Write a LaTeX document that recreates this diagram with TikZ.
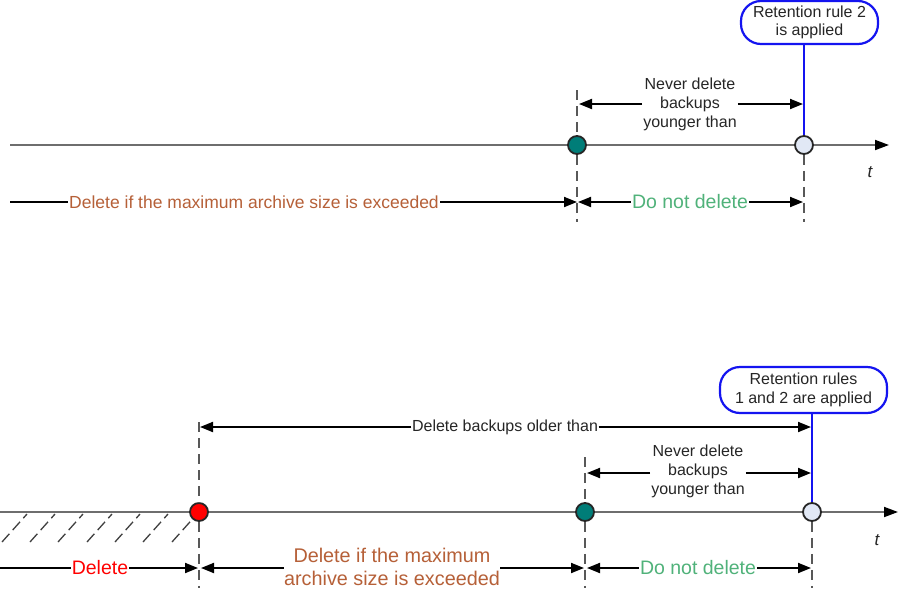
\documentclass[tikz,border=0pt]{standalone}
\usepackage{fontspec}
\setmainfont{Liberation Sans}
\usetikzlibrary{arrows.meta}
\definecolor{teal1}{RGB}{0,125,120}
\definecolor{lightdot}{RGB}{225,232,245}
\definecolor{axisgray}{RGB}{110,110,110}
\definecolor{orangetxt}{RGB}{182,96,56}
\definecolor{greentxt}{RGB}{80,178,122}
\definecolor{rulblue}{RGB}{20,20,240}
\tikzset{
  axis/.style={draw=axisgray, line width=1.8pt, -{Triangle[length=14pt,width=10pt,color=black]}},
  guide/.style={draw=axisgray!80!black, line width=1.3pt, dash pattern=on 10pt off 6pt},
  dim/.style={draw=black, line width=1.9pt, -{Triangle[length=13pt,width=10pt]}},
  plain/.style={draw=black, line width=1.9pt},
  dot/.style={circle, draw=black!85, line width=1.8pt, minimum size=18pt, inner sep=0pt},
  bubble/.style={draw=rulblue, line width=2.2pt, rounded corners=20pt, align=center, font=\fontsize{16}{18.5}\selectfont, inner sep=0pt, text=black!85},
  blk/.style={font=\fontsize{16}{19}\selectfont, align=center, inner sep=1pt, text=black!85},
  colr/.style={align=center, inner sep=1pt},
  hatch/.style={draw=black!75, line width=1.3pt, dash pattern=on 11pt off 5pt},
  tlabel/.style={font=\itshape\fontsize{17}{17}\selectfont, text=black!85},
  ruleline/.style={draw=rulblue, line width=2.2pt},
}
\begin{document}
\begin{tikzpicture}[x=1pt,y=-1pt]
\useasboundingbox[fill=white] (0,0) rectangle (898,595);

% ================= TOP DIAGRAM =================
\coordinate (tA0) at (10,145);
\coordinate (tAend) at (889,145);
\draw[axis] (tA0) -- (tAend);
\node[dot, fill=teal1] (g1) at (577,145) {};
\node[dot, fill=lightdot] (w1) at (804,145) {};
\node[tlabel] (t1) at (870,172) {t};

\coordinate (g1top) at (577,90);
\coordinate (g1bot) at (577,222);
\coordinate (w1bot) at (804,222);
\draw[guide] (g1top) -- (g1.north);
\draw[guide] (g1.south) -- (g1bot);
\draw[guide] (w1.south) -- (w1bot);

\node[bubble, minimum width=137pt, minimum height=43pt] (b1) at (809.5,22.5) {Retention rule 2\\is applied};
\draw[ruleline] (w1.north) -- (w1.north |- b1.south);

\coordinate (n1L) at (579,104);
\coordinate (n1R) at (803,104);
\node[blk] (n1) at (690,104) {Never delete\\backups\\younger than};
\draw[dim] (n1.west |- n1L) -- (n1L);
\draw[dim] (n1.east |- n1R) -- (n1R);

\coordinate (o1L) at (10,202);
\coordinate (o1R) at (577,202);
\node[colr, text=orangetxt, font=\fontsize{17.5}{23}\selectfont] (o1) at (254,202) {Delete if the maximum archive size is exceeded};
\draw[plain] (o1L) -- (o1.west);
\draw[dim] (o1.east) -- (o1R);

\coordinate (d1L) at (578,202);
\coordinate (d1R) at (803,202);
\node[colr, text=greentxt, font=\fontsize{19.5}{23}\selectfont] (d1) at (690,202) {Do not delete};
\draw[dim] (d1.west) -- (d1L);
\draw[dim] (d1.east) -- (d1R);

% ================= BOTTOM DIAGRAM =================
\coordinate (bA0) at (0,512);
\coordinate (bAend) at (898,512);
\draw[axis] (bA0) -- (bAend);

% hatching
\foreach \x in {2,30,58,87,115,143,172}{
  \draw[hatch] (\x,542) -- ++(25,-28);
}

\node[dot, fill=red] (r2) at (199,512) {};
\node[dot, fill=teal1] (g2) at (585,512) {};
\node[dot, fill=lightdot] (w2) at (812,512) {};
\node[tlabel] (t2) at (877,540) {t};

\coordinate (r2top) at (199,422);
\coordinate (r2bot) at (199,588);
\coordinate (g2top) at (585,457);
\coordinate (g2bot) at (585,588);
\coordinate (w2bot) at (812,588);
\draw[guide] (r2top) -- (r2.north);
\draw[guide] (r2.south) -- (r2bot);
\draw[guide] (g2top) -- (g2.north);
\draw[guide] (g2.south) -- (g2bot);
\draw[guide] (w2.south) -- (w2bot);

\node[bubble, minimum width=167pt, minimum height=46pt] (b2) at (803.5,390) {Retention rules\\1 and 2 are applied};
\draw[ruleline] (w2.north) -- (w2.north |- b2.south);

\coordinate (oldL) at (200,427);
\coordinate (oldR) at (811,427);
\node[blk, inner sep=0.5pt] (old) at (505,427) {Delete backups older than};
\draw[dim] (old.west) -- (oldL);
\draw[dim] (old.east) -- (oldR);

\coordinate (n2L) at (587,473);
\coordinate (n2R) at (811,473);
\node[blk] (n2) at (698,471) {Never delete\\backups\\younger than};
\draw[dim] (n2.west |- n2L) -- (n2L);
\draw[dim] (n2.east |- n2R) -- (n2R);

\coordinate (del2L) at (0,568);
\coordinate (del2R) at (198,568);
\node[colr, text=red, font=\fontsize{19.5}{23}\selectfont] (del2) at (100,568) {Delete};
\draw[plain] (del2L) -- (del2.west);
\draw[dim] (del2.east) -- (del2R);

\coordinate (o2L) at (201,568);
\coordinate (o2R) at (584,568);
\node[colr, text=orangetxt, font=\fontsize{19.8}{23}\selectfont, inner sep=0pt] (o2) at (392,567) {Delete if the maximum\\archive size is exceeded};
\draw[dim] (o2.west |- o2L) -- (o2L);
\draw[dim] (o2.east |- o2R) -- (o2R);

\coordinate (d2L) at (587,568);
\coordinate (d2R) at (811,568);
\node[colr, text=greentxt, font=\fontsize{19.5}{23}\selectfont] (d2) at (698,568) {Do not delete};
\draw[dim] (d2.west) -- (d2L);
\draw[dim] (d2.east) -- (d2R);
\end{tikzpicture}
\end{document}
